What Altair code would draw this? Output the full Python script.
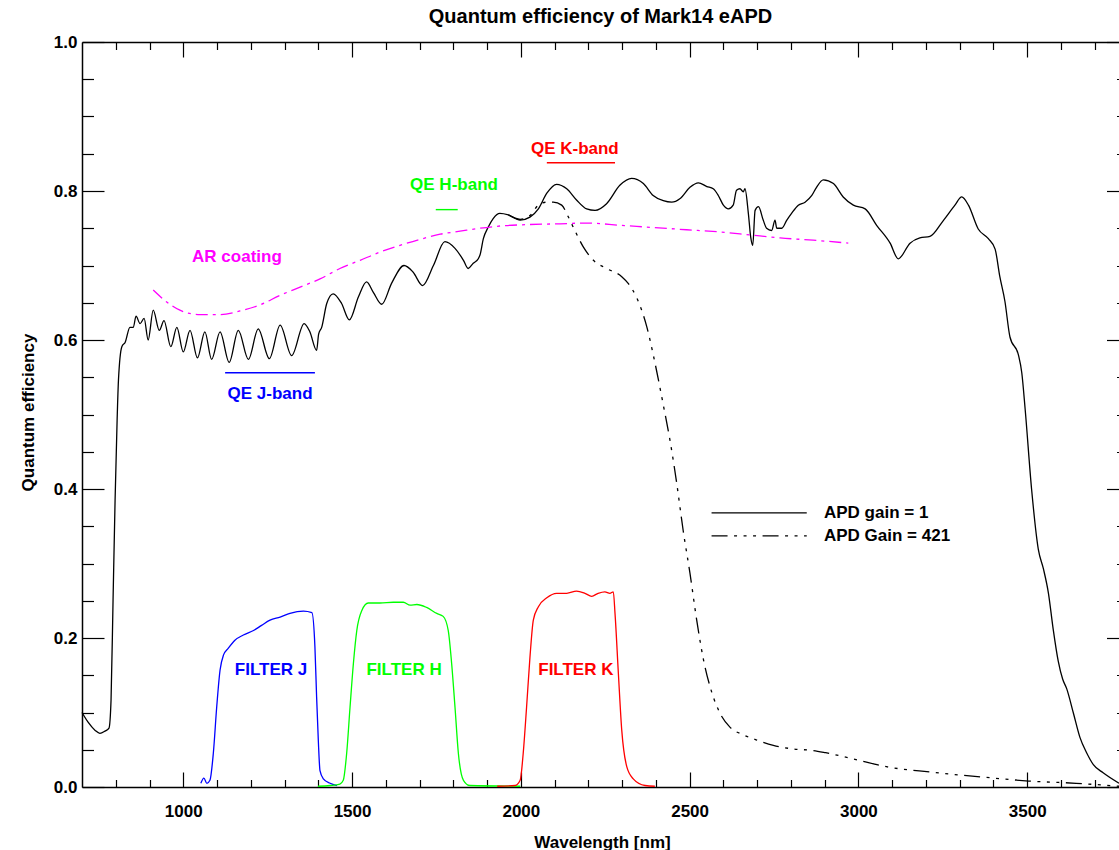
import altair as alt
import pandas as pd

FONT = "Liberation Sans"

# ---------------- data ----------------
# QE, APD gain = 1 (solid black)
g1_nm = [700, 718, 739, 753, 768, 780, 786, 792, 798, 804,
         808, 818, 828, 842, 852, 860, 872, 884, 896, 911,
         929, 943, 963, 981, 1000, 1020, 1042, 1064, 1084, 1109,
         1136, 1163, 1193, 1222, 1255, 1287, 1321, 1358, 1375, 1395,
         1401, 1410, 1425, 1444, 1469, 1492, 1519, 1543, 1563, 1588,
         1617, 1654, 1681, 1709, 1741, 1775, 1805, 1830, 1844, 1859,
         1874, 1879, 1889, 1904, 1918, 1938, 1963, 1998, 2027, 2052,
         2077, 2106, 2136, 2165, 2195, 2220, 2254, 2294, 2328, 2363,
         2392, 2422, 2447, 2472, 2501, 2526, 2551, 2570, 2585, 2600,
         2615, 2629, 2639, 2649, 2659, 2664, 2674, 2681, 2687, 2694,
         2704, 2718, 2728, 2743, 2753, 2758, 2773, 2788, 2802, 2822,
         2842, 2862, 2876, 2896, 2926, 2955, 2985, 3020, 3054, 3094,
         3118, 3153, 3182, 3212, 3251, 3286, 3306, 3326, 3355, 3385,
         3405, 3419, 3434, 3449, 3474, 3484, 3494, 3513, 3533, 3548,
         3563, 3577, 3592, 3605, 3617, 3637, 3656, 3676, 3696, 3725,
         3772]
g1_qe = [0.100, 0.087, 0.076, 0.072, 0.075, 0.079, 0.116, 0.251, 0.385, 0.492,
         0.546, 0.591, 0.597, 0.617, 0.617, 0.632, 0.622, 0.629, 0.600, 0.640,
         0.613, 0.626, 0.591, 0.617, 0.584, 0.613, 0.576, 0.611, 0.574, 0.611,
         0.570, 0.613, 0.574, 0.615, 0.575, 0.620, 0.579, 0.622, 0.611, 0.586,
         0.608, 0.617, 0.649, 0.662, 0.649, 0.627, 0.658, 0.678, 0.664, 0.648,
         0.676, 0.700, 0.691, 0.673, 0.700, 0.732, 0.723, 0.707, 0.696, 0.703,
         0.709, 0.714, 0.736, 0.752, 0.763, 0.770, 0.768, 0.761, 0.765, 0.776,
         0.797, 0.809, 0.803, 0.788, 0.776, 0.774, 0.783, 0.808, 0.817, 0.810,
         0.794, 0.787, 0.785, 0.790, 0.805, 0.811, 0.806, 0.803, 0.794, 0.781,
         0.776, 0.781, 0.801, 0.803, 0.799, 0.803, 0.770, 0.738, 0.727, 0.774,
         0.779, 0.761, 0.750, 0.747, 0.761, 0.750, 0.750, 0.761, 0.770, 0.781,
         0.785, 0.794, 0.805, 0.815, 0.810, 0.792, 0.781, 0.776, 0.754, 0.730,
         0.709, 0.730, 0.737, 0.739, 0.760, 0.781, 0.792, 0.781, 0.749, 0.736,
         0.722, 0.685, 0.652, 0.604, 0.580, 0.556, 0.507, 0.400, 0.319, 0.293,
         0.260, 0.212, 0.169, 0.145, 0.132, 0.099, 0.067, 0.046, 0.030, 0.019,
         0.005]

# QE, APD gain = 421 (dash-dot-dot-dot black)
g421_nm = [1963, 1998, 2027, 2052, 2077, 2096, 2121, 2141, 2160, 2185,
           2215, 2254, 2299, 2318, 2343, 2373, 2397, 2422, 2442, 2462,
           2481, 2501, 2521, 2541, 2565, 2590, 2620, 2659, 2699, 2748,
           2807, 2866, 2903, 3000, 3086, 3215, 3376, 3505, 3645, 3772]
g421_qe = [0.768, 0.762, 0.767, 0.781, 0.785, 0.785, 0.781, 0.765, 0.747, 0.725,
           0.707, 0.696, 0.685, 0.676, 0.657, 0.618, 0.570, 0.513, 0.465, 0.407,
           0.344, 0.287, 0.224, 0.171, 0.128, 0.099, 0.080, 0.070, 0.063, 0.056,
           0.051, 0.049, 0.046, 0.036, 0.027, 0.020, 0.013, 0.008, 0.005, 0.001]

# AR coating (magenta dash-dot)
ar_nm = [911, 951, 990, 1050, 1109, 1168, 1227, 1287, 1346, 1405,
         1464, 1524, 1583, 1642, 1701, 1761, 1820, 1879, 1938, 2027,
         2116, 2195, 2294, 2392, 2491, 2590, 2679, 2768, 2866, 2970]
ar_qe = [0.667, 0.651, 0.640, 0.634, 0.634, 0.639, 0.647, 0.660, 0.671, 0.682,
         0.696, 0.707, 0.718, 0.727, 0.735, 0.742, 0.746, 0.750, 0.753, 0.755,
         0.756, 0.757, 0.754, 0.751, 0.748, 0.745, 0.741, 0.737, 0.734, 0.730]

# Filter transmissions
fj_nm = [1052, 1061, 1070, 1079, 1089, 1099, 1109, 1119, 1133, 1153,
         1178, 1208, 1232, 1257, 1287, 1316, 1356, 1381, 1390, 1395,
         1400, 1405, 1415, 1435, 1455]
fj_val = [0.005, 0.012, 0.005, 0.009, 0.045, 0.107, 0.157, 0.177, 0.186, 0.197,
          0.204, 0.210, 0.217, 0.224, 0.228, 0.233, 0.236, 0.234, 0.188, 0.121,
          0.063, 0.022, 0.011, 0.005, 0.002]
fh_nm = [1399, 1435, 1464, 1474, 1484, 1494, 1504, 1514, 1529, 1548,
         1583, 1622, 1652, 1672, 1692, 1721, 1751, 1770, 1785, 1795,
         1805, 1815, 1830, 1849, 1998]
fh_val = [0.001, 0.002, 0.004, 0.009, 0.045, 0.107, 0.166, 0.210, 0.237, 0.247,
          0.247, 0.248, 0.248, 0.244, 0.245, 0.241, 0.233, 0.229, 0.210, 0.166,
          0.107, 0.045, 0.009, 0.002, 0.001]
fk_nm = [1930, 1983, 1998, 2007, 2017, 2027, 2037, 2052, 2077, 2106,
         2136, 2165, 2190, 2210, 2229, 2249, 2264, 2274, 2279, 2289,
         2299, 2314, 2333, 2368, 2397]
fk_val = [0.001, 0.002, 0.009, 0.045, 0.107, 0.174, 0.224, 0.242, 0.254, 0.260,
          0.260, 0.263, 0.260, 0.256, 0.260, 0.262, 0.260, 0.262, 0.233, 0.152,
          0.076, 0.027, 0.011, 0.002, 0.001]

# Band QE markers
band_label = ["QE J-band", "QE H-band", "QE K-band"]
band_from = [1124, 1748, 2077]
band_to = [1390, 1813, 2279]
band_qe = [0.556, 0.775, 0.838]
band_color = ["#0000ff", "#00ff00", "#ff0000"]

# Annotations
ann_text = ["AR coating", "QE J-band", "QE H-band", "QE K-band",
            "FILTER J", "FILTER H", "FILTER K"]
ann_nm = [1159, 1257, 1802, 2160, 1260, 1654, 2163]
ann_qe = [0.711, 0.528, 0.808, 0.857, 0.157, 0.157, 0.157]
ann_color = ["#ff00ff", "#0000ff", "#00ff00", "#ff0000",
             "#0000ff", "#00ff00", "#ff0000"]

# Legend
leg_text = ["APD gain = 1", "APD Gain = 421"]
leg_qe = [0.368, 0.337]
leg_from, leg_to, leg_text_nm = 2565, 2847, 2898

# Axes
X_MIN, X_MAX = 700, 3772
x_major = [1000, 1500, 2000, 2500, 3000, 3500]
x_minor = [800, 900, 1100, 1200, 1300, 1400, 1600, 1700, 1800, 1900,
           2100, 2200, 2300, 2400, 2600, 2700, 2800, 2900, 3100, 3200,
           3300, 3400, 3600, 3700]
y_major = [0.0, 0.2, 0.4, 0.6, 0.8, 1.0]
y_minor = [0.05, 0.10, 0.15, 0.25, 0.30, 0.35, 0.45, 0.50, 0.55,
           0.65, 0.70, 0.75, 0.85, 0.90, 0.95]

# ---------------- frames ----------------
df_g1 = pd.DataFrame({"nm": g1_nm, "qe": g1_qe})
df_g421 = pd.DataFrame({"nm": g421_nm, "qe": g421_qe})
df_ar = pd.DataFrame({"nm": ar_nm, "qe": ar_qe})
df_fj = pd.DataFrame({"nm": fj_nm, "qe": fj_val})
df_fh = pd.DataFrame({"nm": fh_nm, "qe": fh_val})
df_fk = pd.DataFrame({"nm": fk_nm, "qe": fk_val})
df_band = pd.DataFrame({"x0": band_from, "x1": band_to, "qe": band_qe, "col": band_color})
df_ann = pd.DataFrame({"nm": ann_nm, "qe": ann_qe, "label": ann_text, "col": ann_color})
df_leg = pd.DataFrame({"x0": [leg_from] * 2, "x1": [leg_to] * 2, "xt": [leg_text_nm] * 2,
                       "qe": leg_qe, "label": leg_text})

xs = alt.Scale(domain=[X_MIN, X_MAX], nice=False, zero=False)
ys = alt.Scale(domain=[0, 1], nice=False, zero=False)

TICK = dict(grid=False, domain=False, labels=False, title=None,
            tickColor="black", tickWidth=1.2)


def tick_axis(orient, values, visible):
    return alt.Axis(orient=orient, values=values, offset=-visible, tickSize=visible, **TICK)


x_bottom_frame = alt.Axis(
    orient="bottom", values=x_major, format="d", grid=False,
    domain=True, domainColor="black", domainWidth=1.5, ticks=False,
    labelFont=FONT, labelFontSize=17, labelFontWeight="bold", labelColor="black",
    labelPadding=16, labelOverlap=False, labelFlush=False,
    title="Wavelength [nm]", titleFont=FONT, titleFontSize=17, titleFontWeight="bold",
    titleColor="black", titleX=520, titleY=55, titleBaseline="middle", titleAlign="center")
y_left_frame = alt.Axis(
    orient="left", values=y_major, format=".1f", grid=False,
    domain=True, domainColor="black", domainWidth=1.5, ticks=False,
    labelFont=FONT, labelFontSize=17, labelFontWeight="bold", labelColor="black",
    labelPadding=5, labelBaseline="middle", labelOffset=0, labelOverlap=False,
    title="Quantum efficiency", titleFont=FONT, titleFontSize=17, titleFontWeight="bold",
    titleColor="black", titleAngle=270, titleX=-54, titleY=370,
    titleBaseline="middle", titleAlign="center")
x_top_frame = alt.Axis(orient="top", grid=False, domain=True, domainColor="black",
                       domainWidth=1.5, ticks=False, labels=False, title=None)

x_bot_major = tick_axis("bottom", x_major, 15)
x_bot_minor = tick_axis("bottom", x_minor, 7.5)
x_top_major = tick_axis("top", x_major, 15)
x_top_minor = tick_axis("top", x_minor, 7.5)
y_left_major = tick_axis("left", y_major, 22)
y_left_minor = tick_axis("left", y_minor, 11.5)
y_right_major = tick_axis("right", y_major, 12.5)
y_right_minor = tick_axis("right", y_minor, 2.5)


def curve(df, color, xaxis, yaxis, dash=None, width=1.3):
    kw = dict(color=color, strokeWidth=width, strokeCap="butt", interpolate="monotone")
    if dash is not None:
        kw["strokeDash"] = dash
    return alt.Chart(df).mark_line(**kw).encode(
        x=alt.X("nm:Q", scale=xs, axis=xaxis),
        y=alt.Y("qe:Q", scale=ys, axis=yaxis))


DASH_421 = [16, 6.5, 3, 6.5, 3, 6.5, 3, 6.5]
DASH_AR = [12, 5, 3, 5]

solid = curve(df_g1, "#000000", x_bottom_frame, y_left_frame)
dashed = curve(df_g421, "#000000", x_bot_major, y_left_major, DASH_421)
ar = curve(df_ar, "#ff00ff", x_bot_minor, y_left_minor, DASH_AR)
fj = curve(df_fj, "#0000ff", x_top_frame, y_right_major)
fh = curve(df_fh, "#00ff00", x_top_major, y_right_minor)
fk = curve(df_fk, "#ff0000", x_top_minor, None)

bands = alt.Chart(df_band).mark_rule(strokeWidth=1.4).encode(
    x=alt.X("x0:Q", scale=xs, axis=None), x2="x1:Q",
    y=alt.Y("qe:Q", scale=ys, axis=None),
    color=alt.Color("col:N", scale=None))

ann = alt.Chart(df_ann).mark_text(font=FONT, fontSize=17, fontWeight="bold",
                                  align="center", baseline="middle").encode(
    x=alt.X("nm:Q", scale=xs, axis=None),
    y=alt.Y("qe:Q", scale=ys, axis=None),
    text="label:N", color=alt.Color("col:N", scale=None))

leg_base = alt.Chart(df_leg)
leg_solid = leg_base.transform_filter(alt.datum.label == leg_text[0]).mark_rule(
    color="#000000", strokeWidth=1.3).encode(
    x=alt.X("x0:Q", scale=xs, axis=None), x2="x1:Q",
    y=alt.Y("qe:Q", scale=ys, axis=None))
leg_dash = leg_base.transform_filter(alt.datum.label == leg_text[1]).mark_rule(
    color="#000000", strokeWidth=1.3, strokeDash=DASH_421).encode(
    x=alt.X("x0:Q", scale=xs, axis=None), x2="x1:Q",
    y=alt.Y("qe:Q", scale=ys, axis=None))
leg_lbl = leg_base.mark_text(font=FONT, fontSize=17, fontWeight="bold", color="black",
                             align="left", baseline="middle").encode(
    x=alt.X("xt:Q", scale=xs, axis=None),
    y=alt.Y("qe:Q", scale=ys, axis=None),
    text="label:N")

chart = alt.layer(
    solid, dashed, ar, fj, fh, fk, bands, ann, leg_solid, leg_dash, leg_lbl
).resolve_axis(x="independent", y="independent").properties(
    width=1037, height=745,
    padding={"left": 82, "top": 42, "right": 0, "bottom": 63},
    autosize=alt.AutoSizeParams(type="none"),
    title=alt.TitleParams(text="Quantum efficiency of Mark14 eAPD", font=FONT,
                          fontSize=20, fontWeight="bold", color="black",
                          anchor="middle", offset=6),
    background="white",
).configure_view(strokeWidth=0)

chart.save("out.html", embed_options={"renderer": "svg", "actions": False})
